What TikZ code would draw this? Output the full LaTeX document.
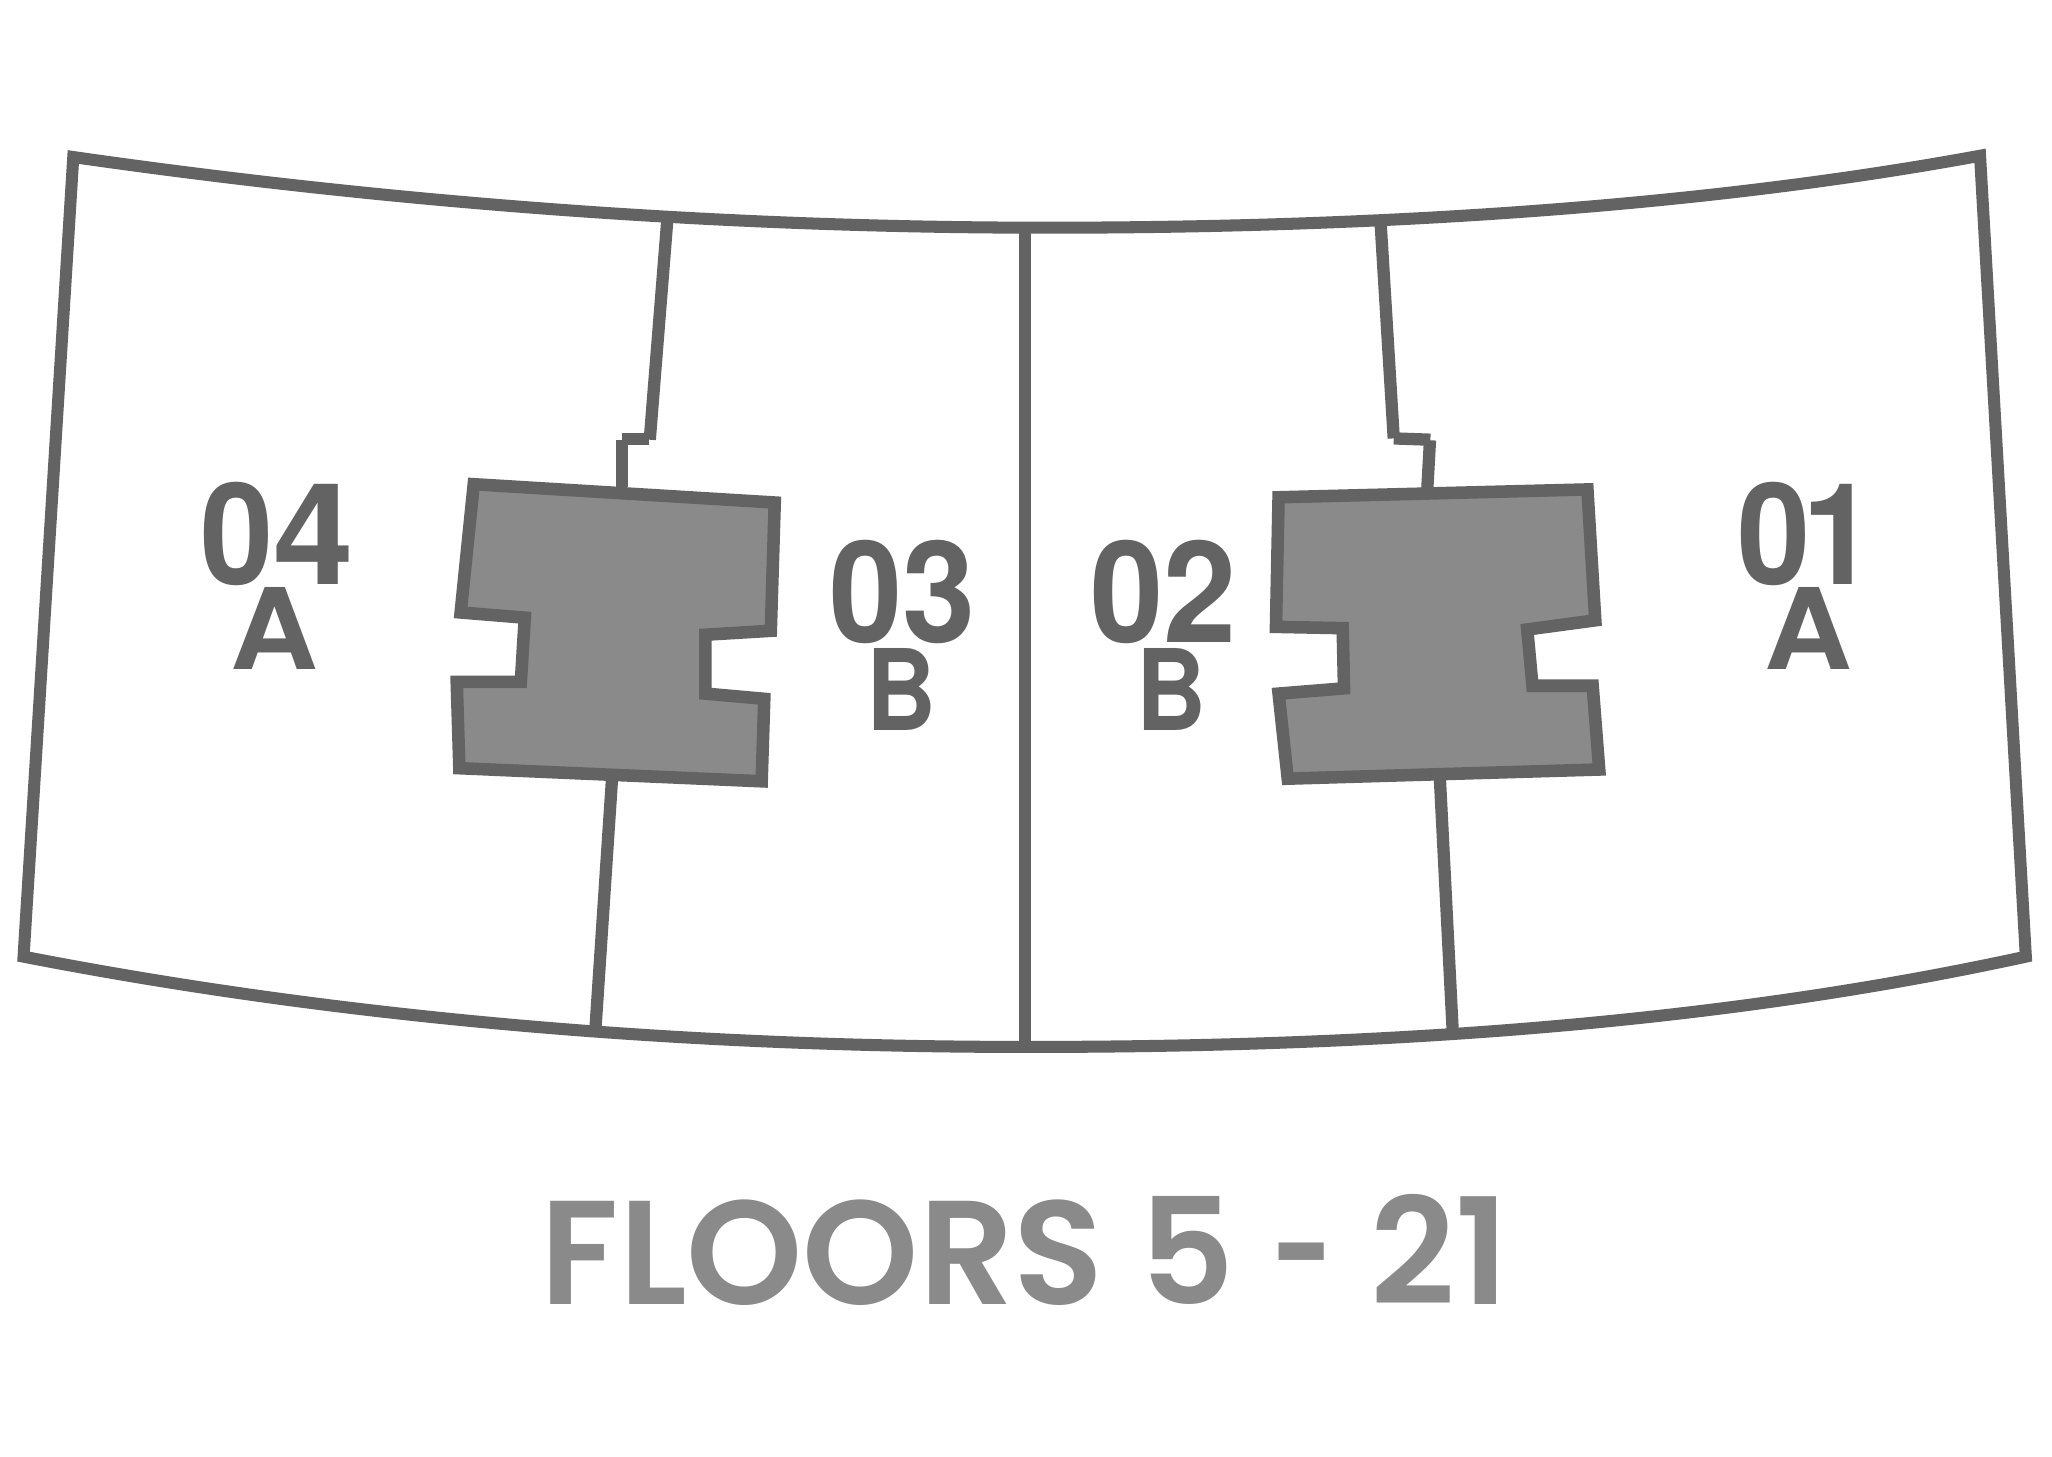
\documentclass[tikz,border=0pt]{standalone}
\usepackage{fontspec}
\setmainfont{TeX Gyre Heros}
\newfontfamily\numfont{TeX Gyre Heros}[FakeStretch=0.93]
\newfontfamily\capfont{Poppins SemiBold}
\definecolor{wall}{HTML}{636363}
\definecolor{core}{HTML}{8A8A8A}
\tikzset{
  wallline/.style={draw=wall,line width=9.2pt,line join=miter},
  thinwall/.style={draw=wall,line width=9.4pt},
  corebox/.style={draw=wall,fill=core,line width=9.6pt,line join=miter},
  unitnum/.style={text=wall,inner sep=0pt,font=\numfont\fontsize{108}{108}\selectfont\bfseries},
  unitlet/.style={text=wall,inner sep=0pt,font=\fontsize{86}{86}\selectfont\bfseries},
  caption/.style={text=core,inner sep=0pt,font=\capfont\fontsize{113}{113}\selectfont}
}
\begin{document}
\begin{tikzpicture}[x=1pt,y=-1pt]
\useasboundingbox (0,0) rectangle (1568,1112.6);
% partition lines
\draw[thinwall] (783,174) -- (783,800);
\draw[thinwall] (510,167) -- (496.5,336);
\draw[thinwall] (475.5,335.5) -- (496,335.5);
\draw[thinwall] (475.5,336) -- (475.5,372);
\draw[thinwall] (468,590) -- (455,786);
\draw[thinwall] (1055,171) -- (1065,335);
\draw[thinwall] (1065,335) -- (1093,336);
\draw[thinwall] (1092.7,336.4) -- (1090.5,376);
\draw[thinwall] (1100,590) -- (1110,787);
% outer outline
\draw[wallline] (56,120) .. controls (300,155) and (550,174) .. (800,174)
  .. controls (1040,174) and (1290,160) .. (1513,119)
  -- (1548,731)
  .. controls (1300,785) and (1040,800) .. (785,800)
  .. controls (530,800) and (270,780) .. (18,731) -- cycle;
% cores
\draw[corebox] (362,370) -- (592,384) -- (589,482) -- (539,485) -- (539,530) -- (584,534) -- (582,597) -- (351,587) -- (349,521) -- (398,521) -- (401,472) -- (352,468) -- cycle;
\draw[corebox] (977,380) -- (1213,374) -- (1219,474) -- (1167,481) -- (1171,524) -- (1217,524) -- (1222,588) -- (984,595) -- (977,530) -- (1027,526) -- (1026,480) -- (975,479) -- cycle;
% labels
\node[unitnum] (n04) at (212,408) {0\scalebox{1.1}[1]{4}};
\node[unitlet] (a04) at (210,480) {\scalebox{1.08}[1]{A}};
\node[unitnum] (n03) at (689.5,452) {03};
\node[unitlet] (b03) at (689,527) {\scalebox{.86}[1]{B}};
\node[unitnum] (n02) at (889,452) {02};
\node[unitlet] (b02) at (895,527) {\scalebox{.86}[1]{B}};
\node[unitnum] (n01) at (1380.3,408) {0\kern-6pt 1};
\node[unitlet] (a01) at (1382,480) {\scalebox{1.08}[1]{A}};
\node[caption] (cap) at (783,955) {FLOORS 5\hspace{0.25em}\scalebox{0.72}[1]{-}\hspace{0.25em}21};
\end{tikzpicture}
\end{document}
